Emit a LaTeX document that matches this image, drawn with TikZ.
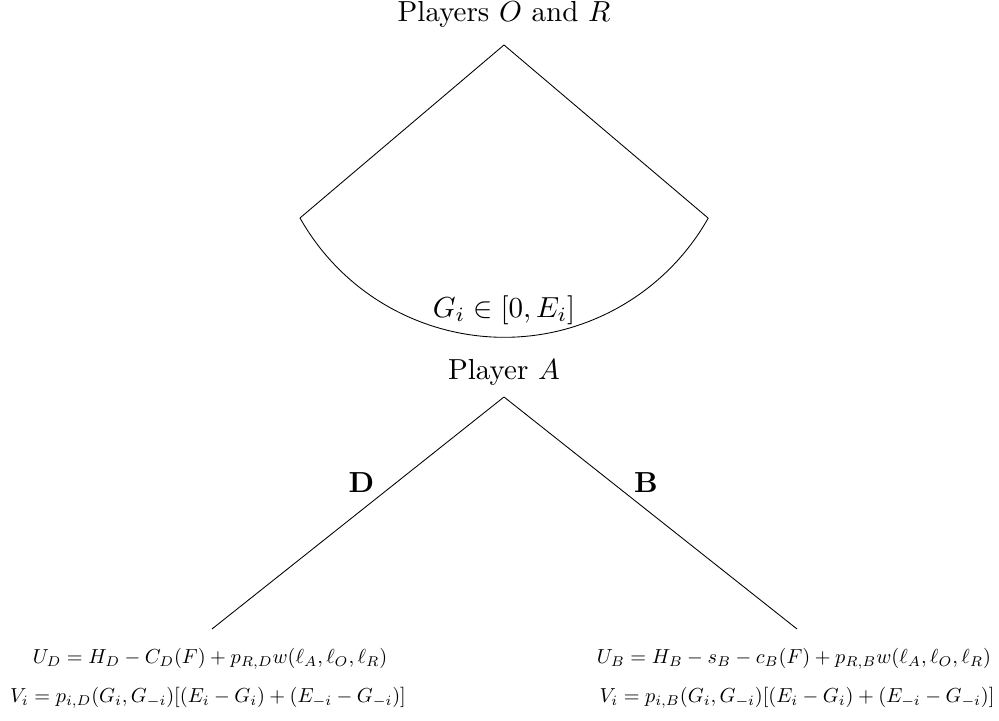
\documentclass[tikz,border=0pt]{standalone}
\usepackage{amsmath,amssymb}
\usetikzlibrary{positioning}
\tikzset{
  branch/.style={line width=0.3pt},
  player/.style={font=\normalsize},
  move/.style={font=\bfseries},
  payoff/.style={scale=0.7,transform shape}
}
\begin{document}
\begin{tikzpicture}[x=0.3448pt,y=0.3448pt]
  \useasboundingbox (0,0) rectangle (999,721);
  % first stage: O and R pick G_i
  \node[player] (or) at (504,707) {Players $O$ and $R$};
  \coordinate (ortop) at (504,676);
  \coordinate (orleft) at (300,503);
  \coordinate (orright) at (708,503);
  \draw[branch] (orleft) -- (ortop) -- (orright);
  \draw[branch] (orleft) arc (209.4:330.6:80.8pt);
  \node[player] (g) at (504,411) {$G_i\in[0,E_i]$};
  % second stage: A picks D or B
  \node[player] (a) at (504,349) {Player $A$};
  \coordinate (atop) at (504,324);
  \coordinate (dleaf) at (212,92);
  \coordinate (bleaf) at (797,92);
  \draw[branch] (atop) -- (dleaf) node[move,pos=0.37,left=4pt] {D};
  \draw[branch] (atop) -- (bleaf) node[move,pos=0.37,right=4pt] {B};
  % payoffs
  \node[payoff] (ud) at (210,62) {$U_D=H_D-C_D(F)+p_{R,D}w(\ell_A,\ell_O,\ell_R)$};
  \node[payoff] (vd) at (208,23) {$V_i=p_{i,D}(G_i,G_{-i})[(E_i-G_i)+(E_{-i}-G_{-i})]$};
  \node[payoff] (ub) at (794,62) {$U_B=H_B-s_B-c_B(F)+p_{R,B}w(\ell_A,\ell_O,\ell_R)$};
  \node[payoff] (vb) at (797,23) {$V_i=p_{i,B}(G_i,G_{-i})[(E_i-G_i)+(E_{-i}-G_{-i})]$};
\end{tikzpicture}
\end{document}
